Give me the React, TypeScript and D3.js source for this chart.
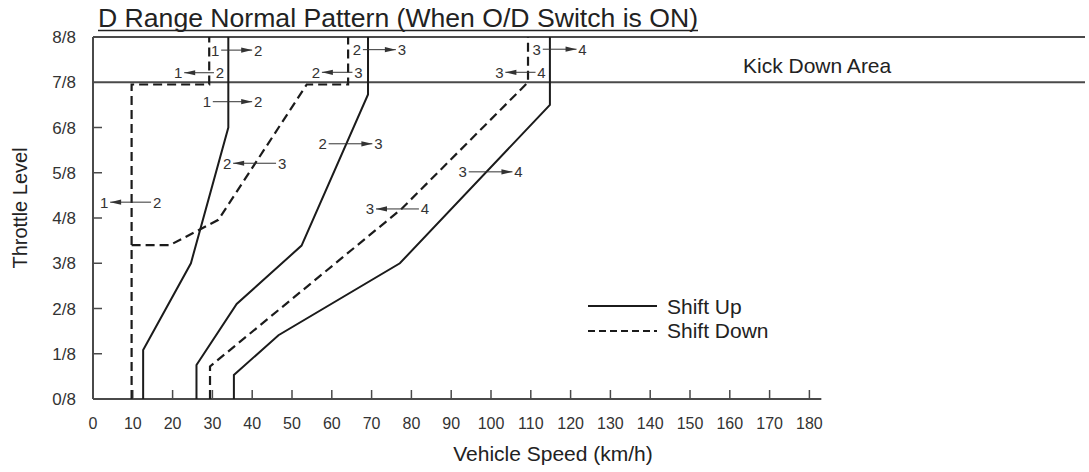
import React from 'react';
import * as d3 from 'd3';

// axis ticks
const speedTicks = [0, 10, 20, 30, 40, 50, 60, 70, 80, 90, 100, 110, 120, 130, 140, 150, 160, 170, 180];
const throttleTicks = [0, 1, 2, 3, 4, 5, 6, 7, 8];
const throttleLabels = ['0/8', '1/8', '2/8', '3/8', '4/8', '5/8', '6/8', '7/8', '8/8'];

// shift lines: [speed km/h, throttle in eighths]
const up12: [number, number][] = [[12.6, 0], [12.6, 1.08], [24.6, 3.0], [34.0, 6.0], [34.0, 8]];
const down12: [number, number][] = [[9.7, 0], [9.7, 6.95], [29.2, 6.95], [29.2, 8]];
const up23: [number, number][] = [[26.0, 0], [26.0, 0.75], [36.1, 2.1], [52.4, 3.39], [69.1, 6.73], [69.1, 8]];
const down23: [number, number][] = [[9.7, 3.4], [19.3, 3.4], [31.5, 3.96], [53.7, 6.95], [64.1, 6.95], [64.1, 8]];
const up34: [number, number][] = [[35.4, 0], [35.4, 0.53], [46.6, 1.41], [77.1, 3.0], [114.8, 6.5], [114.8, 8]];
const down34: [number, number][] = [[29.4, 0], [29.4, 0.72], [77.5, 4.2], [109.3, 7.0], [109.3, 8]];

const shiftUpLines = [up12, up23, up34];
const shiftDownLines = [down12, down23, down34];

// gear change annotations: digit positions in km/h, height in eighths
const gearFrom = ['1', '1', '1', '2', '1', '2', '2', '2', '3', '3', '3', '3'];
const gearTo = ['2', '2', '2', '3', '2', '3', '3', '3', '4', '4', '4', '4'];
const gearDir = ['up', 'down', 'up', 'down', 'down', 'up', 'down', 'up', 'up', 'down', 'up', 'down'];
const gearX1 = [30.7, 21.4, 28.6, 33.7, 2.8, 66.3, 56.0, 57.7, 111.5, 102.1, 92.9, 69.6];
const gearX2 = [41.5, 31.9, 41.5, 47.5, 16.1, 77.6, 66.7, 71.7, 123.0, 112.7, 106.9, 83.4];
const gearLevel = [7.71, 7.21, 6.57, 5.21, 4.35, 7.72, 7.22, 5.64, 7.73, 7.22, 5.02, 4.2];

const W = 1089;
const H = 472;
const FONT = '"Liberation Sans", Arial, Helvetica, sans-serif';
const INK = '#1b1b1b';
const FRAME = '#4a4a4a';

const App: React.FC = () => {
  const x = d3.scaleLinear().domain([0, 180]).range([93, 809.4]);
  const y = d3.scaleLinear().domain([0, 8]).range([399, 37]);

  const line = d3
    .line<[number, number]>()
    .x(d => x(d[0]))
    .y(d => y(d[1]));

  const plotRight = W - 4;

  return (
    <svg
      width={W}
      height={H}
      style={{ position: 'absolute', left: 0, top: 0, background: '#fff' }}
      fontFamily={FONT}
    >
      {/* title */}
      <text x={98} y={27} fontSize={26.6} fill="#222">
        D Range Normal Pattern (When O/D Switch is ON)
      </text>
      <line x1={98} x2={698} y1={30.5} y2={30.5} stroke="#222" strokeWidth={1.5} />

      {/* frame */}
      <line x1={x(0)} x2={x(0)} y1={y(8)} y2={y(0)} stroke={FRAME} strokeWidth={2} />
      <line x1={x(0)} x2={plotRight} y1={y(8)} y2={y(8)} stroke={FRAME} strokeWidth={2} />
      <line x1={x(0)} x2={plotRight} y1={y(7)} y2={y(7)} stroke={FRAME} strokeWidth={2} />
      <line x1={x(0)} x2={x(183)} y1={y(0)} y2={y(0)} stroke={FRAME} strokeWidth={2} />

      {/* y ticks */}
      {throttleTicks.map((t, i) => (
        <g key={`yt${t}`}>
          {t > 0 && t < 7 && (
            <line x1={x(0)} x2={x(0) + 9} y1={y(t)} y2={y(t)} stroke={FRAME} strokeWidth={1.5} />
          )}
          <text x={76} y={y(t)} dy="0.36em" textAnchor="end" fontSize={17} fill="#333">
            {throttleLabels[i]}
          </text>
        </g>
      ))}

      {/* x ticks */}
      {speedTicks.map(t => (
        <g key={`xt${t}`}>
          {t > 0 && (
            <line x1={x(t)} x2={x(t)} y1={y(0)} y2={y(0) - 9} stroke={FRAME} strokeWidth={1.5} />
          )}
          <text x={x(t)} y={429} textAnchor="middle" fontSize={16} fill="#333">
            {t}
          </text>
        </g>
      ))}

      {/* axis titles */}
      <text x={553} y={461} textAnchor="middle" fontSize={21} fill="#222">
        Vehicle Speed (km/h)
      </text>
      <text
        transform={`translate(27,${208}) rotate(-90)`}
        textAnchor="middle"
        fontSize={20}
        fill="#222"
      >
        Throttle Level
      </text>

      <text x={743} y={73} fontSize={21} fill="#222">
        Kick Down Area
      </text>

      {/* shift lines */}
      {shiftUpLines.map((d, i) => (
        <path key={`up${i}`} d={line(d) || ''} fill="none" stroke={INK} strokeWidth={2} />
      ))}
      {shiftDownLines.map((d, i) => (
        <path
          key={`dn${i}`}
          d={line(d) || ''}
          fill="none"
          stroke={INK}
          strokeWidth={2.2}
          strokeDasharray="9,5"
        />
      ))}

      {/* gear annotations */}
      {gearFrom.map((g, i) => {
        const xa = x(gearX1[i]);
        const xb = x(gearX2[i]);
        const yy = y(gearLevel[i]);
        const l = xa + 6;
        const r = xb - 6;
        const head =
          gearDir[i] === 'up'
            ? `M${r},${yy} L${r - 11},${yy - 2.6} L${r - 11},${yy + 2.6} Z`
            : `M${l},${yy} L${l + 11},${yy - 2.6} L${l + 11},${yy + 2.6} Z`;
        return (
          <g key={`ga${i}`} fill="#333">
            <text x={xa} y={yy} dy="0.36em" textAnchor="middle" fontSize={15}>
              {g}
            </text>
            <text x={xb} y={yy} dy="0.36em" textAnchor="middle" fontSize={15}>
              {gearTo[i]}
            </text>
            <line x1={l} x2={r} y1={yy} y2={yy} stroke="#333" strokeWidth={1} />
            <path d={head} />
          </g>
        );
      })}

      {/* legend */}
      <line x1={588} x2={657} y1={306} y2={306} stroke={INK} strokeWidth={2} />
      <line x1={588} x2={657} y1={331} y2={331} stroke={INK} strokeWidth={2.2} strokeDasharray="7,4" />
      <text x={667} y={314} fontSize={21} fill="#222">
        Shift Up
      </text>
      <text x={667} y={338} fontSize={21} fill="#222">
        Shift Down
      </text>
    </svg>
  );
};

export default App;
